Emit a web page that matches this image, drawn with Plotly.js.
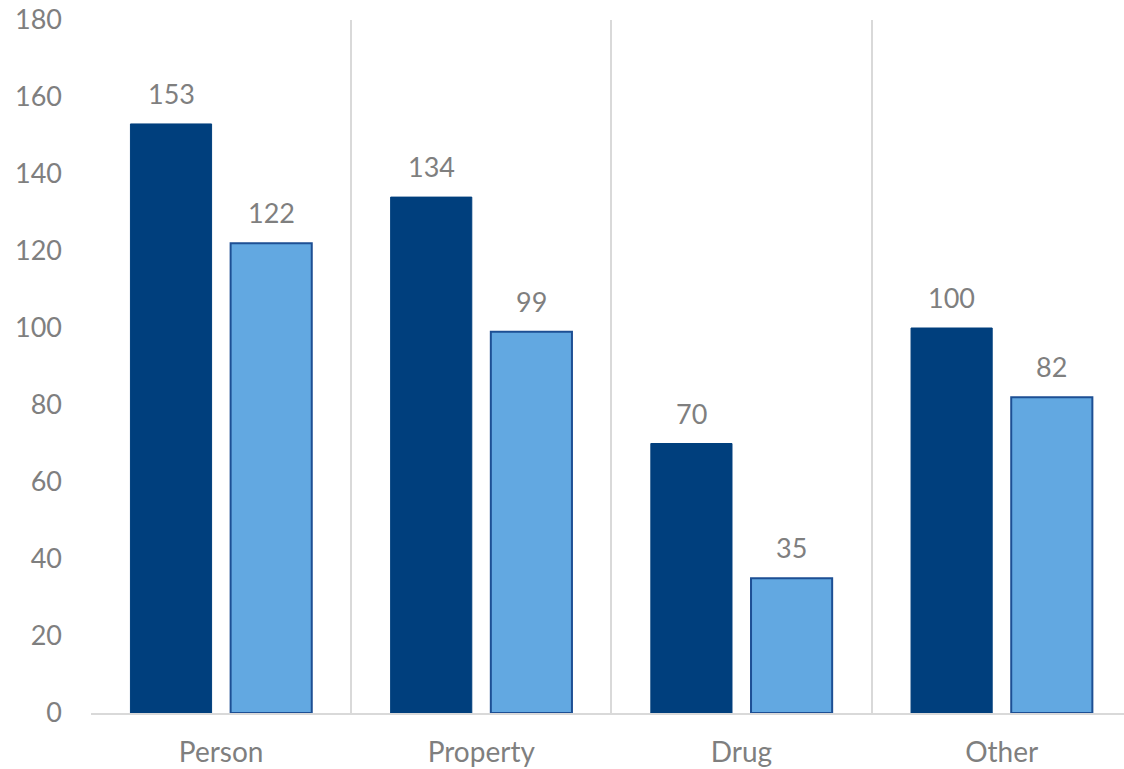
<!DOCTYPE html>
<html>
<head>
<meta charset="utf-8">
<script src="https://cdn.plot.ly/plotly-3.0.1.min.js"></script>
<style>html,body{margin:0;padding:0;background:#fff;}#chart{width:1124px;height:769px;}</style>
</head>
<body>
<div id="chart"></div>
<script>
const categories = ["Person", "Property", "Drug", "Other"];
const seriesA = [153, 134, 70, 100];
const seriesB = [122, 99, 35, 82];
const yTicks = [0, 20, 40, 60, 80, 100, 120, 140, 160, 180];

const gray = "#7f7f7f";
const font = "Lato, 'Open Sans', sans-serif";

const traces = [
  {
    type: "bar", x: categories, y: seriesA, name: "A",
    marker: {color: "#003f7d", line: {color: "#003f7d", width: 1}},
    hoverinfo: "none"
  },
  {
    type: "bar", x: categories, y: seriesB, name: "B",
    marker: {color: "#62a8e1", line: {color: "#1d4f94", width: 2}},
    hoverinfo: "none"
  }
];

const annotations = [];
categories.forEach((c, i) => {
  annotations.push({x: c, y: seriesA[i], xref: "x", yref: "y", text: String(seriesA[i]),
    showarrow: false, xshift: -50, yshift: 12, yanchor: "bottom",
    font: {family: font, color: gray, size: 27}});
  annotations.push({x: c, y: seriesB[i], xref: "x", yref: "y", text: String(seriesB[i]),
    showarrow: false, xshift: 50, yshift: 12, yanchor: "bottom",
    font: {family: font, color: gray, size: 27}});
});

const layout = {
  width: 1124, height: 769,
  margin: {l: 91, r: 0, t: 20, b: 56, pad: 0},
  paper_bgcolor: "#ffffff", plot_bgcolor: "#ffffff",
  showlegend: false,
  barmode: "group", bargap: 0.23, bargroupgap: 0.19,
  font: {family: font, color: gray, size: 27},
  annotations: annotations,
  xaxis: {
    type: "category", range: [-0.5, 3.47],
    tickson: "boundaries", showgrid: true, gridcolor: "#d9d9d9", gridwidth: 2,
    showline: true, linecolor: "#d9d9d9", linewidth: 2,
    ticks: "", ticklabelstandoff: 13,
    tickfont: {family: font, color: gray, size: 28},
    zeroline: false
  },
  yaxis: {
    range: [0, 180], tickvals: yTicks, ticktext: yTicks.map(String),
    showgrid: false, zeroline: false, showline: false,
    ticks: "", ticklabelstandoff: 28,
    tickfont: {family: font, color: gray, size: 27}
  }
};

Plotly.newPlot("chart", traces, layout, {displayModeBar: false, staticPlot: true});
</script>
</body>
</html>
